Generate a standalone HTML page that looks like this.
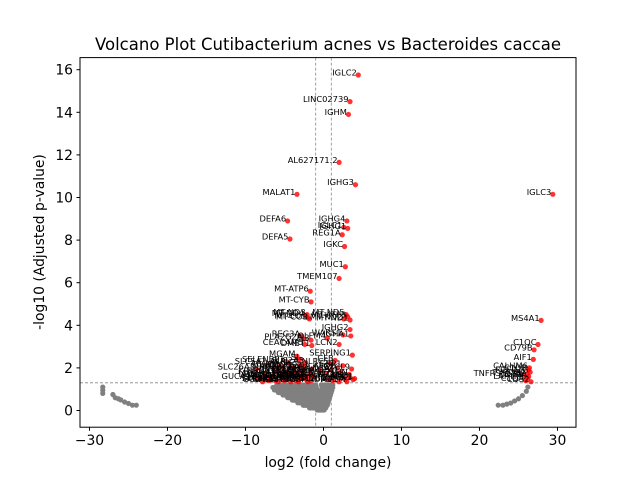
<!DOCTYPE html>
<html><head><meta charset="utf-8"><style>
body{margin:0;background:#fff}
svg{display:block;font-family:"DejaVu Sans","Liberation Sans",sans-serif}
</style></head><body>
<svg id="chart" width="640" height="480" viewBox="0 0 640 480">
<rect x="0" y="0" width="640" height="480" fill="#fff"/>
<text x="328" y="50" font-size="16.5" text-anchor="middle">Volcano Plot Cutibacterium acnes vs Bacteroides caccae</text>
<g id="plot"></g>
<rect x="80" y="57.6" width="496" height="369.6" fill="none" stroke="#000" stroke-width="1"/>
<text x="328" y="467" font-size="13.9" text-anchor="middle">log2 (fold change)</text>
<text transform="translate(44,242) rotate(-90)" font-size="13.9" text-anchor="middle">-log10 (Adjusted p-value)</text>
</svg>
<script>
const xTicks=[-30,-20,-10,0,10,20,30];
const yTicks=[0,2,4,6,8,10,12,14,16];
const thresholdFC=[-1,1];
const thresholdP=[1.3];
// gray non-significant cloud bands
const bandY=[1.2,1.2,1.08,1.08,0.96,0.96,0.84,0.84,0.72,0.72,0.6,0.48,0.36,0.24,0.12,0.02];
const bandLo=[-6.0,-0.3,-6.5,-0.2,-6.3,-0.3,-5.8,-0.3,-5.2,-0.3,-4.6,-4.0,-3.3,-2.6,-1.8,-0.8];
const bandHi=[-1.0,1.2,-0.9,1.2,-0.8,1.1,-0.7,1.0,-0.6,0.9,0.8,0.7,0.6,0.5,0.3,0.1];
// gray outlier clusters
const grayX=[-28.3,-28.3,-28.3,-27.0,-26.7,-26.3,-26.0,-25.5,-25.0,-24.5,-24.0,22.4,23.0,23.5,24.0,24.5,25.0,25.5,26.0,26.2];
const grayY=[1.1,0.95,0.8,0.75,0.6,0.55,0.5,0.4,0.33,0.25,0.25,0.25,0.25,0.3,0.35,0.45,0.55,0.7,0.9,1.1];
// significant genes
const geneNames=["IGLC2","LINC02739","IGHM","AL627171.2","IGHG3","MALAT1","IGLC3","DEFA6","IGHG4","IGHG1","IGLC1","REG1A","DEFA5","IGKC","MUC1","TMEM107","MT-ATP6","MT-CYB","MS4A1","C1QC","CD79B","AIF1",
"CALHM6","C1QB","FCER1G","TNFRSF13B","CD79A","LAPTM5","C1QA","CD52","TYROBP",
"MT-ND3","MT-ND4","MT-CO1","MT-CO3","MT-ND5","MT-ND2","MT-ATP8","MT-ND1","IGHG2","IGHA1","WARS1","REG3A","PLA2G2A","PI3","LCN2","CEACAM5","DMBT1","OLFM4","SERPING1","MGAM","SI","CFB","NLRC5","SLC5A1","SLC26A3","ABCG2","CA1","GUCA2B","AQP8","CLCA1","MS4A12","CA2","SPINK4","FABP1","PHGR1","ZG16","CEACAM7","HLA-DRA","CD74","HLA-DPA1","IGHA2","JCHAIN","CXCL9","IDO1","GBP1","STAT1","CHI3L1","SELENBP1","SLC4A4","CEACAM1","HMGCS2","TFF3",
"GCG","PYY","INSL5","CHGA","SST","BEST4","OTOP2","CA7","SPIB","MUC2","FCGBP","ITLN1","KLK1","TFF1","AGR2","LGALS4","KRT20","CDX2","VIL1","EPCAM","CDH17","GPA33","SLC26A2","UGT2B17","ADH1C","MT1G","MT1M","CKB","PCK1","APOB","RBP2","MTTP","ALPI","LCT","SLC2A5"];
const geneFC=[4.46,3.4,3.2,2.0,4.1,-3.4,29.4,-4.6,3.0,3.1,2.6,2.4,-4.3,2.7,2.8,2.0,-1.7,-1.6,27.9,27.5,27.0,26.9,
26.4,26.3,26.5,25.6,26.3,26.2,25.9,26.6,26.1,
-2.1,-2.3,-2.0,-1.8,2.9,2.6,3.1,3.4,3.4,3.5,2.5,-2.8,-2.5,-1.6,2.0,-2.4,-1.5,0.5,3.7,-3.4,-3.0,1.5,0.9,-7.1,-8.6,-5.5,-6.0,-8.4,-7.5,-6.8,-5.2,-4.5,-3.8,-3.0,-2.2,-1.8,-1.2,1.0,1.6,2.2,2.8,3.3,3.6,4.0,2.5,0.6,-0.5,-4.8,-6.2,-3.5,-2.6,-4.0,
-7.8,-7.0,-6.4,-5.8,-5.0,-4.2,-3.6,-3.2,-2.8,-2.4,-2.0,-1.6,-1.3,-4.6,-5.4,-6.6,-7.4,-3.9,-3.3,-2.7,-2.1,-1.5,0.3,1.2,2.0,2.6,3.0,3.4,3.8,1.8,-6.0,-5.2,-4.4,-3.0,-2.3];
const genePval=[15.75,14.5,13.9,11.65,10.6,10.15,10.15,8.9,8.9,8.55,8.6,8.25,8.05,7.7,6.75,6.2,5.6,5.1,4.23,3.1,2.85,2.4,
2.0,1.9,1.8,1.65,1.6,1.5,1.4,1.35,1.7,
4.5,4.45,4.35,4.3,4.5,4.3,4.4,4.25,3.8,3.5,3.55,3.5,3.35,3.3,3.1,3.1,3.05,3.4,2.6,2.55,2.4,2.35,2.2,2.2,1.95,2.1,1.8,1.5,1.65,1.45,1.7,1.5,1.85,1.6,1.45,1.75,1.55,1.9,1.6,1.8,1.45,1.7,1.95,1.5,2.1,1.45,1.9,2.3,1.4,1.4,2.05,1.65,
1.35,1.4,1.55,1.35,1.4,1.35,1.55,1.35,1.5,1.6,1.35,1.4,1.65,1.8,1.55,1.6,1.75,2.0,1.75,1.85,1.6,1.95,1.7,1.4,1.35,1.6,1.35,1.55,1.45,2.0,1.95,1.95,2.2,2.15,2.25];

const sx=v=>323.5+7.8*v;
const sy=v=>410.5-21.3*v;
const NS='http://www.w3.org/2000/svg';
const g=document.getElementById('plot');
function mk(tag,attrs,parent){const e=document.createElementNS(NS,tag);for(const k in attrs)e.setAttribute(k,attrs[k]);(parent||g).appendChild(e);return e;}

xTicks.forEach(t=>{
  const l=mk('line',{x1:sx(t),x2:sx(t),y1:427.2,y2:430.7,stroke:'#000'});
  
  
  const tx=mk('text',{x:sx(t),y:445,'font-size':13.9,'text-anchor':'middle'});
  tx.textContent=t<0?'\u2212'+Math.abs(t):String(t);
  
  
});
yTicks.forEach(t=>{
  const l=mk('line',{x1:76.5,x2:80,y1:sy(t),y2:sy(t),stroke:'#000'});
  
  
  const tx=mk('text',{x:73,y:sy(t)+5,'font-size':13.9,'text-anchor':'end'});
  tx.textContent=String(t);
  
  
});
thresholdFC.forEach(v=>{
  const l=mk('line',{x1:sx(v),x2:sx(v),y1:57.6,y2:427.2,stroke:'#888','stroke-width':0.8,'stroke-dasharray':'3,2'});
  
  
});
thresholdP.forEach(v=>{
  const l=mk('line',{x1:80,x2:576,y1:sy(v),y2:sy(v),stroke:'#888','stroke-width':0.8,'stroke-dasharray':'3,2'});
  
  
});
bandY.forEach((y,i)=>{
  const l=mk('line',{x1:sx(bandLo[i]),x2:sx(bandHi[i]),y1:sy(y),y2:sy(y),stroke:'#808080','stroke-width':5,'stroke-linecap':'round'});
  
  
});
grayX.forEach((x,i)=>{
  const c=mk('circle',{cx:sx(x),cy:sy(grayY[i]),r:2.6,fill:'#808080'});
  
  
});
geneNames.forEach((n,i)=>{
  const c=mk('circle',{cx:sx(geneFC[i]),cy:sy(genePval[i]),r:2.6,fill:'#ff0000','fill-opacity':0.8});
  
  
});
geneNames.forEach((n,i)=>{
  const t=mk('text',{x:sx(geneFC[i])-1.5,y:sy(genePval[i])+0.5,'font-size':8.3,'text-anchor':'end'});
  t.textContent=n;
  
  
});
</script>
</body></html>
